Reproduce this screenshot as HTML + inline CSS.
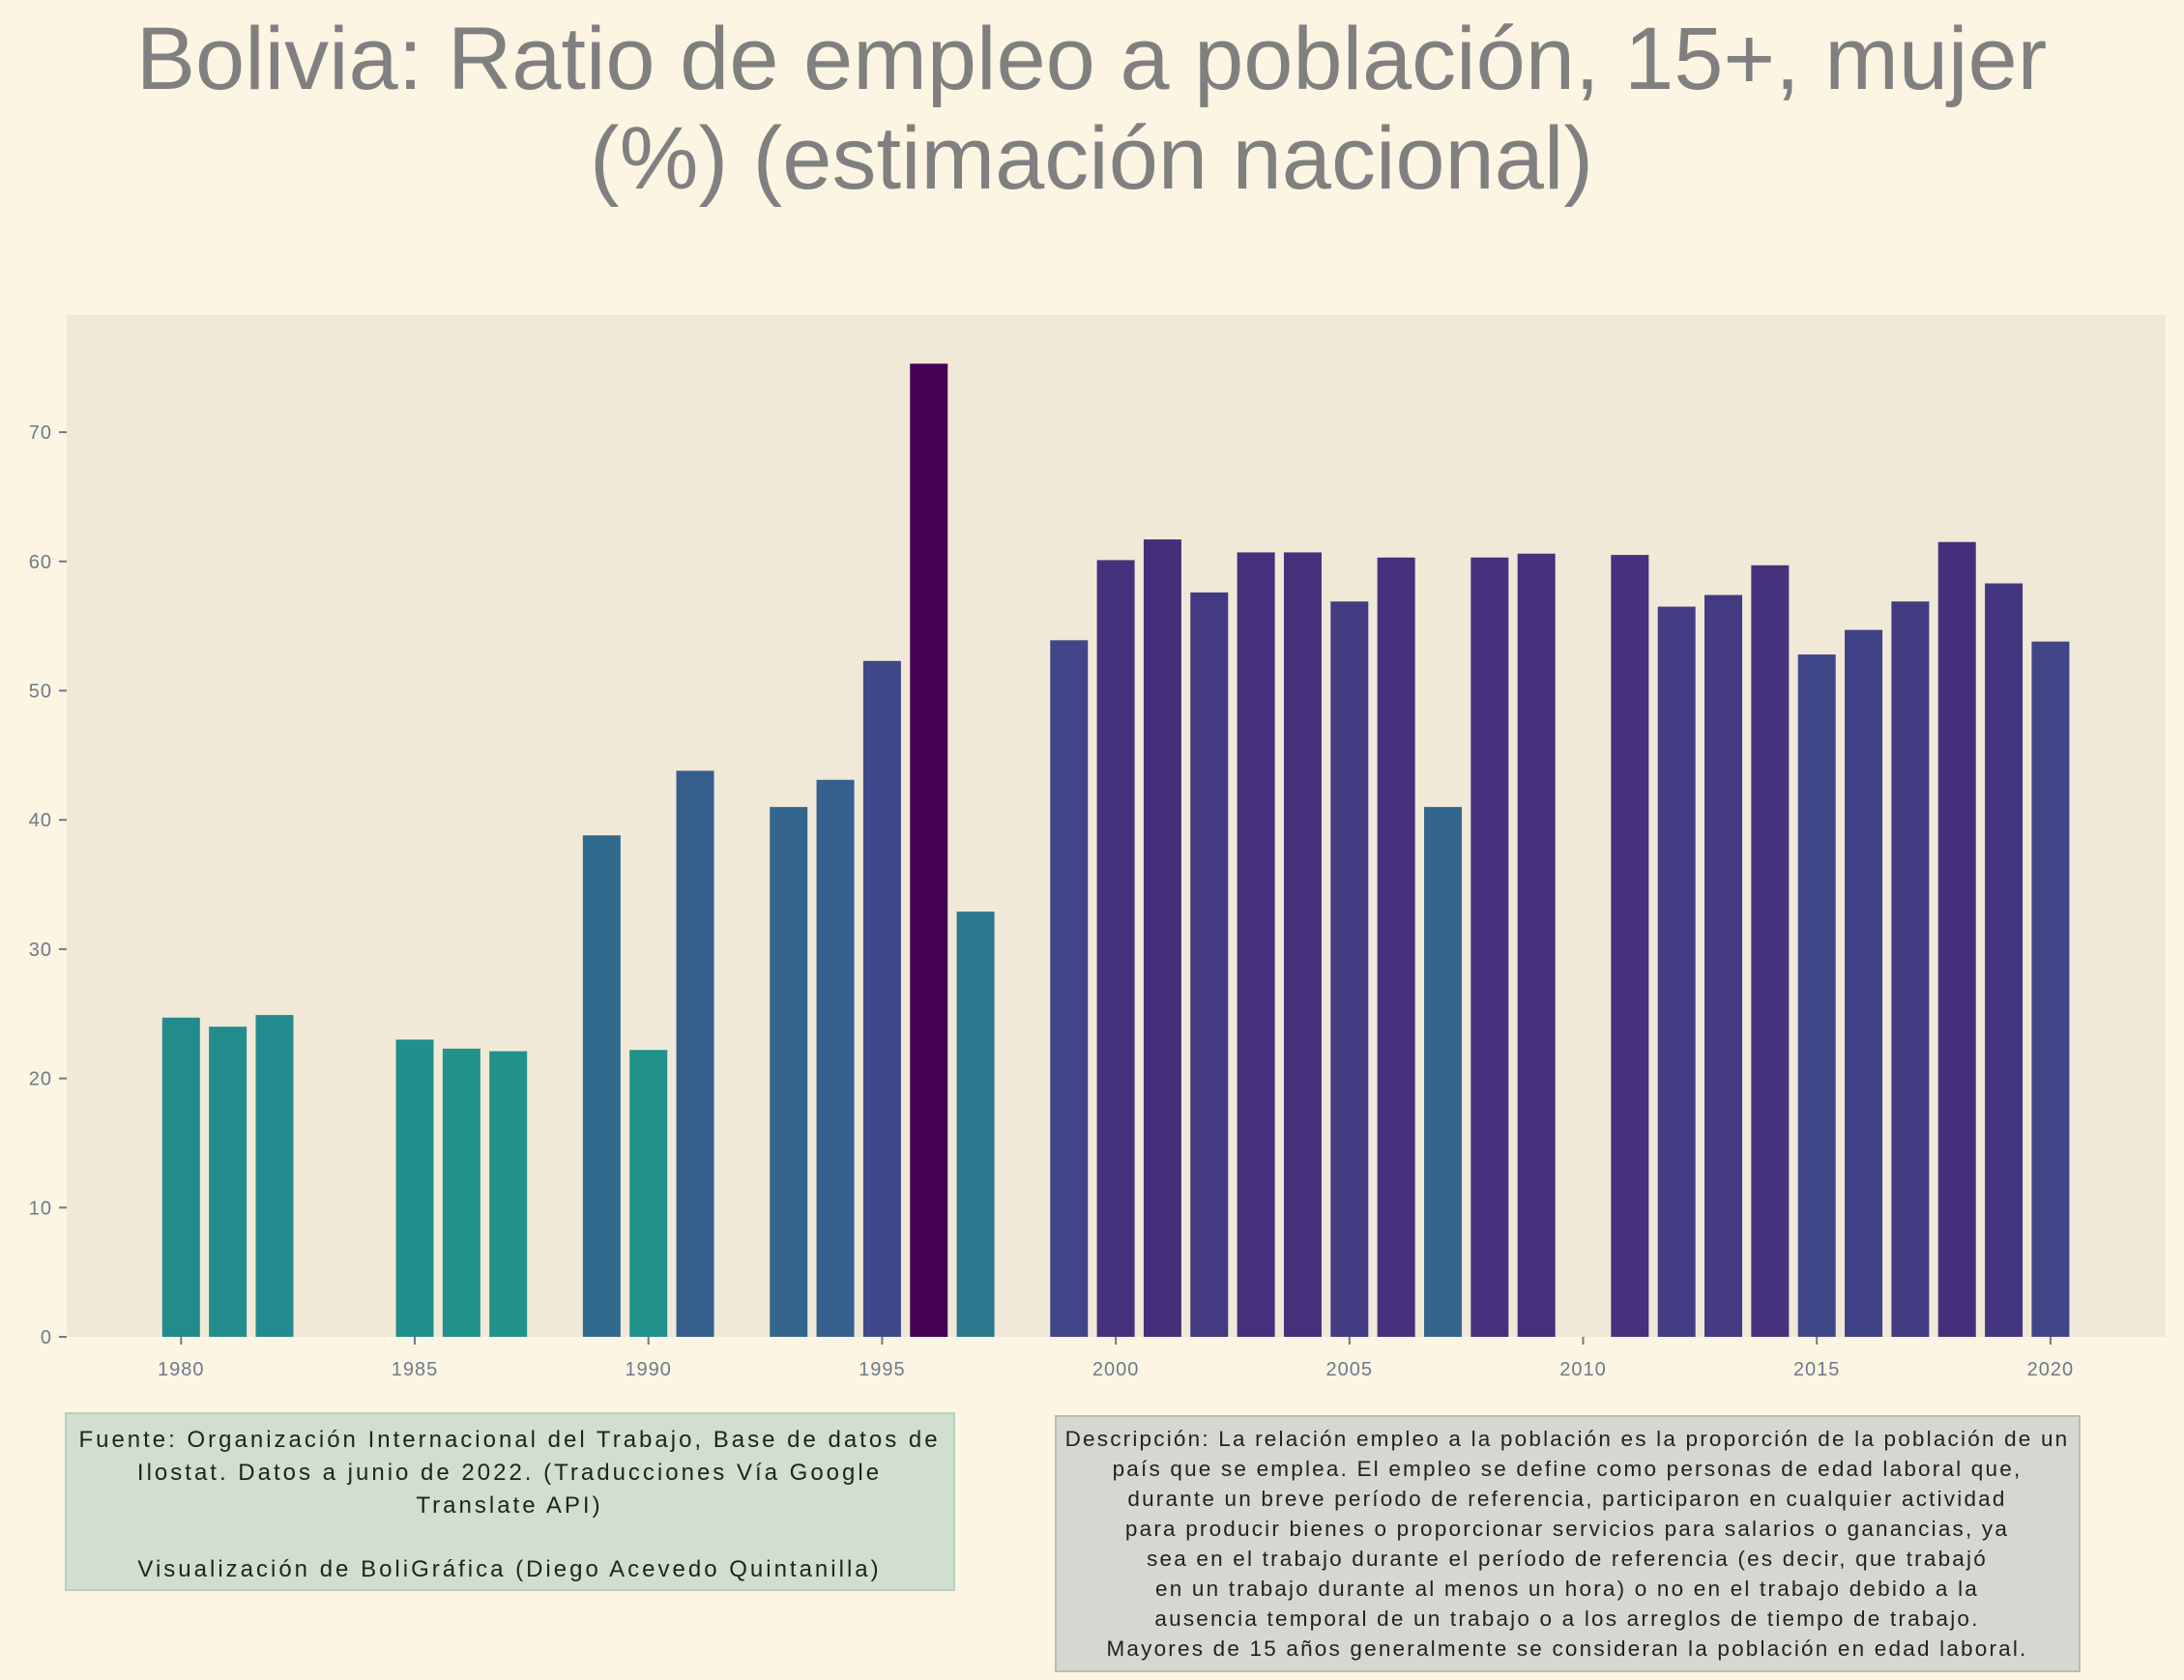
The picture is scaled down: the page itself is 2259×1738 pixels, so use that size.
<!DOCTYPE html>
<html><head><meta charset="utf-8"><style>
html,body{margin:0;padding:0;background:#fdf5e3;}
svg{display:block;font-family:"Liberation Sans",sans-serif;}
</style></head><body>
<svg id="chart" width="2259" height="1738" viewBox="0 0 2259 1738" xmlns="http://www.w3.org/2000/svg">
<rect x="0" y="0" width="2259" height="1738" fill="#fdf5e3"/>
<text x="1129" y="92" text-anchor="middle" font-size="92" fill="#808080">Bolivia:  Ratio de empleo a población, 15+, mujer</text>
<text x="1129" y="195" text-anchor="middle" font-size="92" fill="#808080">(%) (estimación nacional)</text>
<rect x="69" y="326" width="2171" height="1057" fill="#f0e9d7"/>
<g id="yaxis"></g>
<g id="xaxis"></g>
<g id="bars"></g>
<g>
<rect x="68" y="1462" width="919" height="183" fill="#d0dfd0" stroke="#b6cfbb" stroke-width="2"/>
<g font-size="24" fill="#222" text-anchor="middle" letter-spacing="3">
<text x="527" y="1497">Fuente: Organización Internacional del Trabajo, Base de datos de</text>
<text x="527" y="1531">Ilostat. Datos a junio de 2022. (Traducciones Vía Google</text>
<text x="527" y="1565">Translate API)</text>
<text x="527" y="1631">Visualización de BoliGráfica (Diego Acevedo Quintanilla)</text>
</g>
</g>
<g>
<rect x="1092" y="1465" width="1059" height="264" fill="#d5d8d0" stroke="#bbbbb5" stroke-width="2"/>
<g font-size="22.5" fill="#222" text-anchor="middle" letter-spacing="2.2">
<text x="1621" y="1496">Descripción: La relación empleo a la población es la proporción de la población de un</text>
<text x="1621" y="1527">país que se emplea. El empleo se define como personas de edad laboral que,</text>
<text x="1621" y="1558">durante un breve período de referencia, participaron en cualquier actividad</text>
<text x="1621" y="1589">para producir bienes o proporcionar servicios para salarios o ganancias, ya</text>
<text x="1621" y="1620">sea en el trabajo durante el período de referencia (es decir, que trabajó</text>
<text x="1621" y="1651">en un trabajo durante al menos un hora) o no en el trabajo debido a la</text>
<text x="1621" y="1682">ausencia temporal de un trabajo o a los arreglos de tiempo de trabajo.</text>
<text x="1621" y="1713">Mayores de 15 años generalmente se consideran la población en edad laboral.</text>
</g>
</g>
</svg>
<script>
const years = [1980,1981,1982,1985,1986,1987,1989,1990,1991,1993,1994,1995,1996,1997,1999,2000,2001,2002,2003,2004,2005,2006,2007,2008,2009,2011,2012,2013,2014,2015,2016,2017,2018,2019,2020];
const values = [24.7,24.0,24.9,23.0,22.3,22.1,38.8,22.2,43.8,41.0,43.1,52.3,75.3,32.9,53.9,60.1,61.7,57.6,60.7,60.7,56.9,60.3,41.0,60.3,60.6,60.5,56.5,57.4,59.7,52.8,54.7,56.9,61.5,58.3,53.8];
const yTicks = [0,10,20,30,40,50,60,70];
const xTicks = [1980,1985,1990,1995,2000,2005,2010,2015,2020];

const NS = "http://www.w3.org/2000/svg";
function xScale(yr){ return 187.3 + (yr - 1980) * 48.34; }
function yScale(v){ return 1383 - v * 13.37; }
const barW = 39;
const vir = [[68,1,84],[72,36,117],[65,68,135],[53,95,141],[42,120,142],[33,145,140]];
function color(v){
  const mn = Math.min(...values), mx = Math.max(...values);
  let t = 1 - (v - mn) / (mx - mn);
  t = Math.max(0, Math.min(1, t));
  const p = t * (vir.length - 1), i = Math.min(Math.floor(p), vir.length - 2), f = p - i;
  const c = vir[i].map((a, k) => Math.round(a + (vir[i+1][k] - a) * f));
  return `rgb(${c[0]},${c[1]},${c[2]})`;
}
const yg = document.getElementById('yaxis');
yTicks.forEach(t => {
  const y = yScale(t);
  const l = document.createElementNS(NS, 'line');
  l.setAttribute('x1', 61); l.setAttribute('x2', 69); l.setAttribute('y1', y); l.setAttribute('y2', y);
  l.setAttribute('stroke', '#6b7b8a'); l.setAttribute('stroke-width', 2);
  
  
  yg.appendChild(l);
  const tx = document.createElementNS(NS, 'text');
  tx.setAttribute('x', 54); tx.setAttribute('y', y + 7); tx.setAttribute('text-anchor', 'end');
  tx.setAttribute('font-size', 20); tx.setAttribute('fill', '#6b7b8a'); tx.setAttribute('letter-spacing', 1);
  tx.textContent = t;
  
  
  yg.appendChild(tx);
});
const xg = document.getElementById('xaxis');
xTicks.forEach(t => {
  const x = xScale(t);
  const l = document.createElementNS(NS, 'line');
  l.setAttribute('x1', x); l.setAttribute('x2', x); l.setAttribute('y1', 1383); l.setAttribute('y2', 1391);
  l.setAttribute('stroke', '#6b7b8a'); l.setAttribute('stroke-width', 2);
  
  
  xg.appendChild(l);
  const tx = document.createElementNS(NS, 'text');
  tx.setAttribute('x', x); tx.setAttribute('y', 1423); tx.setAttribute('text-anchor', 'middle');
  tx.setAttribute('font-size', 20); tx.setAttribute('fill', '#6b7b8a'); tx.setAttribute('letter-spacing', 1);
  tx.textContent = t;
  
  
  xg.appendChild(tx);
});
const bg = document.getElementById('bars');
years.forEach((yr, i) => {
  const v = values[i];
  const r = document.createElementNS(NS, 'rect');
  r.setAttribute('x', xScale(yr) - barW / 2);
  r.setAttribute('y', yScale(v));
  r.setAttribute('width', barW);
  r.setAttribute('height', yScale(0) - yScale(v));
  r.setAttribute('fill', color(v));
  
  
  bg.appendChild(r);
});
</script>
</body></html>
